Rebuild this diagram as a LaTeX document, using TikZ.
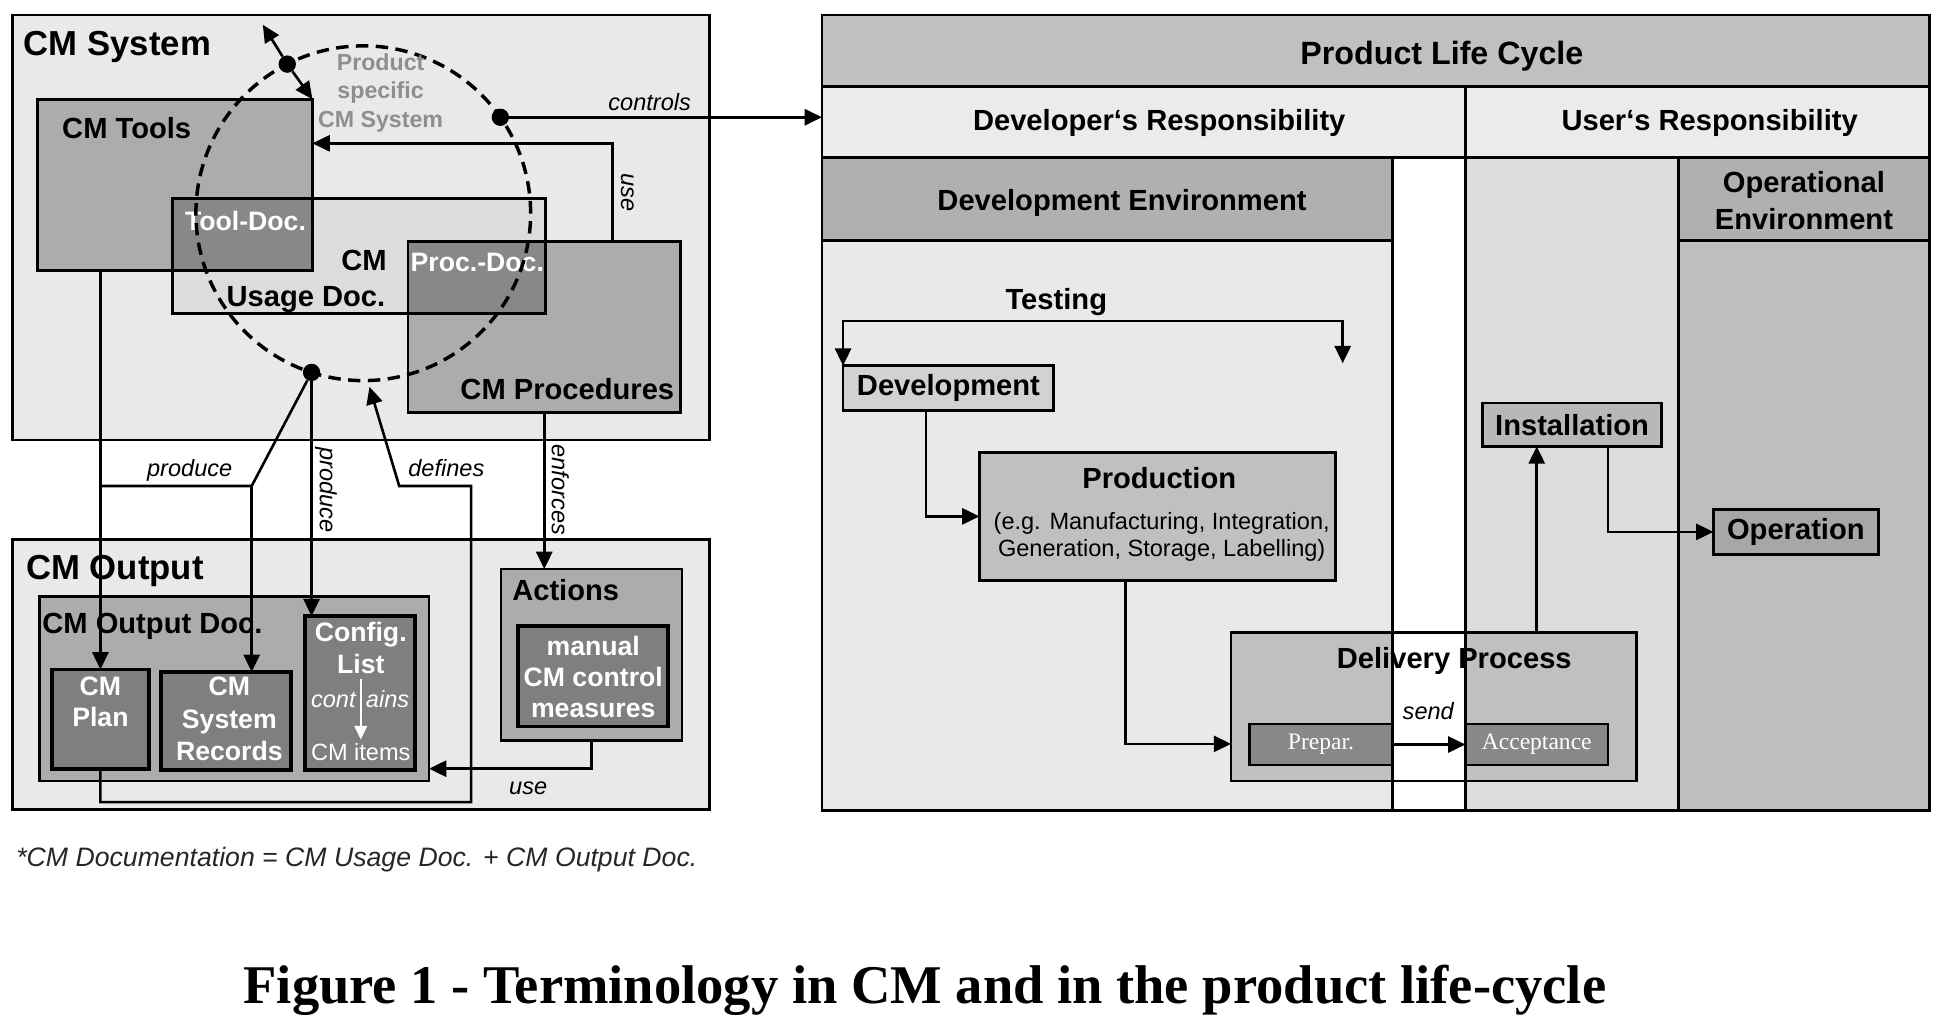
\documentclass[tikz,border=0pt]{standalone}
\usepackage{fontspec}
\setmainfont{Liberation Sans}
\newfontfamily\capfont{Liberation Serif}
\usepackage{tikz}
\usetikzlibrary{arrows.meta, positioning}
\definecolor{sysbg}{HTML}{E9E9E9}
\definecolor{midgray}{HTML}{ACACAC}
\definecolor{litegray}{HTML}{DCDCDC}
\definecolor{olapgray}{HTML}{888888}
\definecolor{darkbox}{HTML}{7F7F7F}
\definecolor{hintgray}{HTML}{8E8E8E}
\definecolor{bandgray}{HTML}{C0C0C0}
\definecolor{rowgray}{HTML}{EBEBEB}
\definecolor{headgray}{HTML}{B0B0B0}
\definecolor{opgray}{HTML}{BEBEBE}
\newcommand{\fBig}{\fontsize{28}{32}\selectfont\bfseries}
\newcommand{\fLbl}{\fontsize{23.5}{27}\selectfont\bfseries}
\newcommand{\fWht}{\fontsize{21.5}{25.5}\selectfont\bfseries}
\newcommand{\fNote}{\fontsize{19}{22}\selectfont\itshape}
\newcommand{\fSmall}{\fontsize{19}{22}\selectfont}

\begin{document}
\begin{tikzpicture}[x=1pt, y=-1pt,
    ln/.style={line width=2.1pt},
    arr/.style={line width=2.1pt, -{Triangle[length=14pt,width=13pt]}},
    dblarr/.style={line width=2.1pt, {Triangle[length=14pt,width=13pt]}-{Triangle[length=14pt,width=13pt]}},
    warr/.style={line width=2pt, white, -{Triangle[length=11pt,width=10pt]}},
    pane/.style={inner sep=0pt, outer sep=0pt},
    blk/.style={draw, line width=2.2pt, inner sep=0pt, outer sep=0pt},
    dkblk/.style={blk, line width=3pt, fill=darkbox},
    jdot/.style={circle, fill=black, inner sep=0pt, minimum size=14pt},
    lbl/.style={font=\fLbl, inner sep=0pt},
    wlbl/.style={font=\fWht, text=white, inner sep=0pt, align=center},
    note/.style={font=\fNote, inner sep=0pt}]
\useasboundingbox (0,0) rectangle (1568,822);

% Left: CM system
\node[blk, fill=sysbg, minimum width=562pt, minimum height=343pt] (cmsys) at (291,183.5) {};
\node[lbl, font=\fBig, anchor=base west] (tSys) at (19,45) {CM System};
\node[pane, fill=midgray, minimum width=222pt, minimum height=138pt] (tools) at (141,149) {};
\node[pane, fill=litegray, minimum width=301pt, minimum height=93pt] (usage) at (289.5,206.5) {};
\node[pane, fill=midgray, minimum width=220pt, minimum height=138pt] (procs) at (439,264) {};
\fill[olapgray] (usage.north west) rectangle (tools.south east);
\fill[olapgray] (procs.north west) rectangle (usage.south east);
\foreach \b in {tools,usage,procs}
    \draw[ln, line width=2.2pt] (\b.north west) rectangle (\b.south east);

\node[lbl, anchor=base west] (tTools) at (50,111.5) {CM Tools};
\node[wlbl, anchor=base] (tToolDoc) at (198,186) {Tool-Doc.};
\node[lbl, anchor=base east] (tCM) at (312,218) {CM};
\node[lbl, anchor=base east] (tUsage) at (311,247) {Usage Doc.};
\node[wlbl, anchor=base west] (tProcDoc) at (331,219) {Proc.-Doc.};
\node[lbl, anchor=base east] (tProcs) at (544,322) {CM Procedures};

% product specific system
\node[circle, draw, line width=2.8pt, dash pattern=on 10pt off 6pt,
      minimum size=270pt, inner sep=0pt, outer sep=0pt] (psys) at (293,172) {};
\node[font=\fontsize{18.7}{23}\selectfont\bfseries, text=hintgray, align=center,
      inner sep=0pt, anchor=north] (tPsys) at (307,43) {Product\\specific\\CM System};
\node[jdot] (dotA) at (psys.117) {};
\node[jdot] (dotC) at (psys.35) {};
\node[jdot] (dotB) at (psys.-108) {};

\coordinate (dtip) at (212,20);
\draw[arr] (dotA) -- (dtip);
\draw[arr] (dotA) -- (tools.north east);
\draw[arr] ([xshift=-55pt]procs.north east) |- ([yshift=-35.6pt]tools.north east);
\node[note, rotate=-90] (tUse) at (506,155) {use};

% CM output
\node[blk, fill=sysbg, minimum width=562pt, minimum height=218pt] (cmout) at (291,544) {};
\node[lbl, font=\fBig, anchor=base west] (tOut) at (21,467.5) {CM Output};
\node[blk, fill=midgray, minimum width=314pt, minimum height=149pt] (outdoc) at (189,555.5) {};
\node[lbl, anchor=base west] (tOutDoc) at (34,511) {CM Output Doc.};
\node[dkblk, minimum width=78pt, minimum height=80pt] (plan) at (81,580) {};
\node[dkblk, minimum width=105pt, minimum height=79pt] (records) at (182.5,581.5) {};
\node[dkblk, minimum width=89pt, minimum height=124pt] (config) at (290.5,559) {};
\node[blk, fill=midgray, minimum width=146pt, minimum height=138pt] (actions) at (477,528) {};
\node[lbl, anchor=base west] (tActions) at (413,484) {Actions};
\node[dkblk, minimum width=121pt, minimum height=81pt] (manual) at (478.5,545.5) {};

\node[wlbl, anchor=north, font=\fontsize{21.5}{24.5}\selectfont\bfseries] (tPlan) at (81,546) {CM\\Plan};
\node[wlbl, anchor=north, font=\fontsize{21.5}{26}\selectfont\bfseries] (tRec) at (185,546) {CM\\System\\Records};
\node[wlbl, anchor=north] (tList) at (291,502) {Config.\\List};
\node[note, text=white, anchor=base east] (tCont) at (287,571) {cont};
\node[note, text=white, anchor=base west] (tAins) at (295,571) {ains};
\node[font=\fSmall, text=white, inner sep=0pt, anchor=base] (tItems) at (291,613.5) {CM items};
\draw[warr, shorten <=4pt, shorten >=3pt] (tList.south) -- (tItems.north);
\node[wlbl, anchor=north, font=\fontsize{21.5}{25}\selectfont\bfseries] (tManual) at (478.5,513) {manual\\CM control\\measures};

% connectors between the two blocks
\coordinate (pj) at (203,392);
\draw[ln] (dotB) -- (pj) -- (pj -| plan.north);
\draw[arr] (pj) -- (pj |- records.north);
\draw[arr] (tools.south -| plan.north) -- (plan.north);
\draw[arr] (dotB) -- (dotB |- config.north);
\coordinate (dlo) at (380,647);
\coordinate (dj) at (322,392);
\coordinate (deftip) at (298,312);
\draw[arr] (plan.south) |- (dlo) |- (dj) -- (deftip);
\draw[arr] (procs.south) -- (procs.south |- actions.north);
\draw[arr] (actions.south) |- ([yshift=10pt]outdoc.south east);
\node[note, anchor=base] (tProd1) at (153,384.5) {produce};
\node[note, rotate=-90] (tProd2) at (263,395) {produce};
\node[note, anchor=base] (tDef) at (360,384.5) {defines};
\node[note, rotate=-90] (tEnf) at (452,395) {enforces};
\node[note, anchor=base] (tUse2) at (426,641) {use};

% Right: product life cycle
\node[blk, fill=bandgray, minimum width=893pt, minimum height=58pt] (title) at (1109.5,41) {};
\node[blk, fill=rowgray, minimum width=519pt, minimum height=57pt] (devresp) at (922.5,98.5) {};
\node[blk, fill=rowgray, minimum width=374pt, minimum height=57pt] (userresp) at (1369,98.5) {};
\node[blk, fill=headgray, minimum width=460pt, minimum height=67pt] (devenv) at (893,160.5) {};
\node[blk, fill=sysbg, minimum width=460pt, minimum height=460pt] (devbody) at (893,424) {};
\node[blk, fill=white, minimum width=59pt, minimum height=527pt] (strip) at (1152.5,390.5) {};
\node[blk, fill=litegray, minimum width=172pt, minimum height=527pt] (usercol) at (1268,390.5) {};
\node[blk, fill=headgray, minimum width=202pt, minimum height=67pt] (openv) at (1455,160.5) {};
\node[blk, fill=opgray, minimum width=202pt, minimum height=460pt] (opbody) at (1455,424) {};

\node[lbl, font=\fontsize{26}{30}\selectfont\bfseries, anchor=base] (tPLC) at (1163,52) {Product Life Cycle};
\node[lbl, anchor=base] (tDevResp) at (935,105) {Developer‘s Responsibility};
\node[lbl, anchor=base] (tUserResp) at (1379,105) {User‘s Responsibility};
\node[lbl, anchor=base] (tDevEnv) at (905,170) {Development Environment};
\node[lbl, align=center, anchor=north, font=\fontsize{23.5}{29.5}\selectfont\bfseries] (tOpEnv) at (1455,138) {Operational\\Environment};
\node[lbl, anchor=base] (tTest) at (852,250) {Testing};

\node[blk, fill=litegray!80!midgray, font=\fLbl, minimum width=170pt, minimum height=36pt] (dev) at (765,313) {Development};
\node[blk, fill=bandgray, minimum width=287pt, minimum height=103pt] (prod) at (933.5,416.5) {};
\node[lbl, anchor=base] (tProdn) at (935,394) {Production};
\node[font=\fSmall, align=center, inner sep=0pt, anchor=base] (tEg) at (937,449)
    {(e.g. Manufacturing, Integration,\\Generation, Storage, Labelling)};
\node[blk, fill=midgray!85!white, font=\fLbl, minimum width=144pt, minimum height=35pt] (inst) at (1268,342.5) {Installation};
\node[blk, fill=midgray!85!olapgray, font=\fLbl, minimum width=133pt, minimum height=36pt] (oper) at (1448.5,429) {Operation};

% delivery across the gap
\node[pane, fill=bandgray, minimum width=327pt, minimum height=120pt] (deliv) at (1156.5,570) {};
\fill[white] (strip.west |- deliv.north) rectangle (strip.east |- deliv.south);
\draw[ln, line width=2.2pt] (deliv.north west) rectangle (deliv.south east);
\draw[ln, line width=2.2pt] (strip.north west) -- (strip.south west);
\draw[ln, line width=2.2pt] (strip.north east) -- (strip.south east);
\node[blk, fill=olapgray, text=white, font=\capfont\fontsize{19}{22}\selectfont, minimum width=115pt, minimum height=33pt] (prep) at (1065.5,600.5) {Prepar.};
\node[blk, fill=olapgray, text=white, font=\capfont\fontsize{19}{22}\selectfont, minimum width=115pt, minimum height=33pt] (accept) at (1239.5,600.5) {Acceptance};
\node[lbl, anchor=base] (tDeliv) at (1173,539) {Delivery Process};
\node[note, anchor=base] (tSend) at (1152,580.5) {send};

\coordinate (testT) at (1083,259);
\coordinate (testR) at (1083,293);
\draw[dblarr] (dev.north west) |- (testT) -- (testR);
\draw[arr] ([xshift=-18pt]dev.south) |- (prod.west);
\draw[arr] ([xshift=-25.5pt]prod.south) |- ([yshift=-30pt]deliv.west);
\draw[arr] (prep.east) -- (accept.west);
\draw[arr] (accept.north |- deliv.north) -- (accept.north |- inst.south);
\draw[arr] ([xshift=29pt]inst.south) |- (oper.west);
\draw[arr] (dotC) -- (dotC -| devresp.west);
\node[note, anchor=base] (tCtrl) at (524,89) {controls};

% notes
\node[font=\fontsize{21.5}{25}\selectfont\itshape, text=black!85, inner sep=0pt, anchor=base west] (tFoot) at (13,699)
    {*CM Documentation = CM Usage Doc. + CM Output Doc.};
\node[font=\capfont\bfseries\fontsize{44}{48}\selectfont, inner sep=0pt, anchor=base] (tCap) at (746,809)
    {Figure 1 - Terminology in CM and in the product life-cycle};
\end{tikzpicture}
\end{document}
